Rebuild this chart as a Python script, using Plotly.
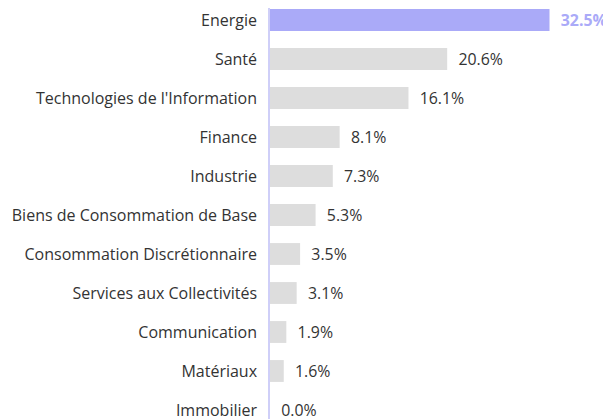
import plotly.graph_objects as go

categories = ["Energie", "Santé", "Technologies de l'Information", "Finance", "Industrie",
              "Biens de Consommation de Base", "Consommation Discrétionnaire",
              "Services aux Collectivités", "Communication", "Matériaux", "Immobilier"]
values = [32.5, 20.6, 16.1, 8.1, 7.3, 5.3, 3.5, 3.1, 1.9, 1.6, 0.0]
highlight = "Energie"

cats = categories[::-1]
vals = values[::-1]
bar_colors = ["#aaaaf8" if c == highlight else "#dddddd" for c in cats]
text_colors = ["#aaaaf8" if c == highlight else "#333333" for c in cats]
text_weights = [700 if c == highlight else 400 for c in cats]
texts = ["  " + f"{v:.1f}%" for v in vals]

fig = go.Figure(go.Bar(
    x=vals, y=cats, orientation="h",
    marker=dict(color=bar_colors, line=dict(width=0)),
    width=0.56,
    text=texts, textposition="outside",
    textfont=dict(color=text_colors, size=16, family="Open Sans", weight=text_weights),
    cliponaxis=False,
    hoverinfo="skip",
))

fig.update_layout(
    width=611, height=419,
    margin=dict(l=262, r=0, t=0, b=0),
    plot_bgcolor="white", paper_bgcolor="white",
    font=dict(family="Open Sans", size=16, color="#333333"),
    showlegend=False,
    xaxis=dict(range=[0, 40.58], visible=False, fixedrange=True),
    yaxis=dict(range=[-0.436, 10.308], showgrid=False, zeroline=False,
               showline=True, linecolor="#cfcff8", linewidth=1.5,
               ticks="", ticklabelstandoff=8, fixedrange=True,
               tickfont=dict(size=16, color="#333333")),
)

fig.write_html("out.html")
